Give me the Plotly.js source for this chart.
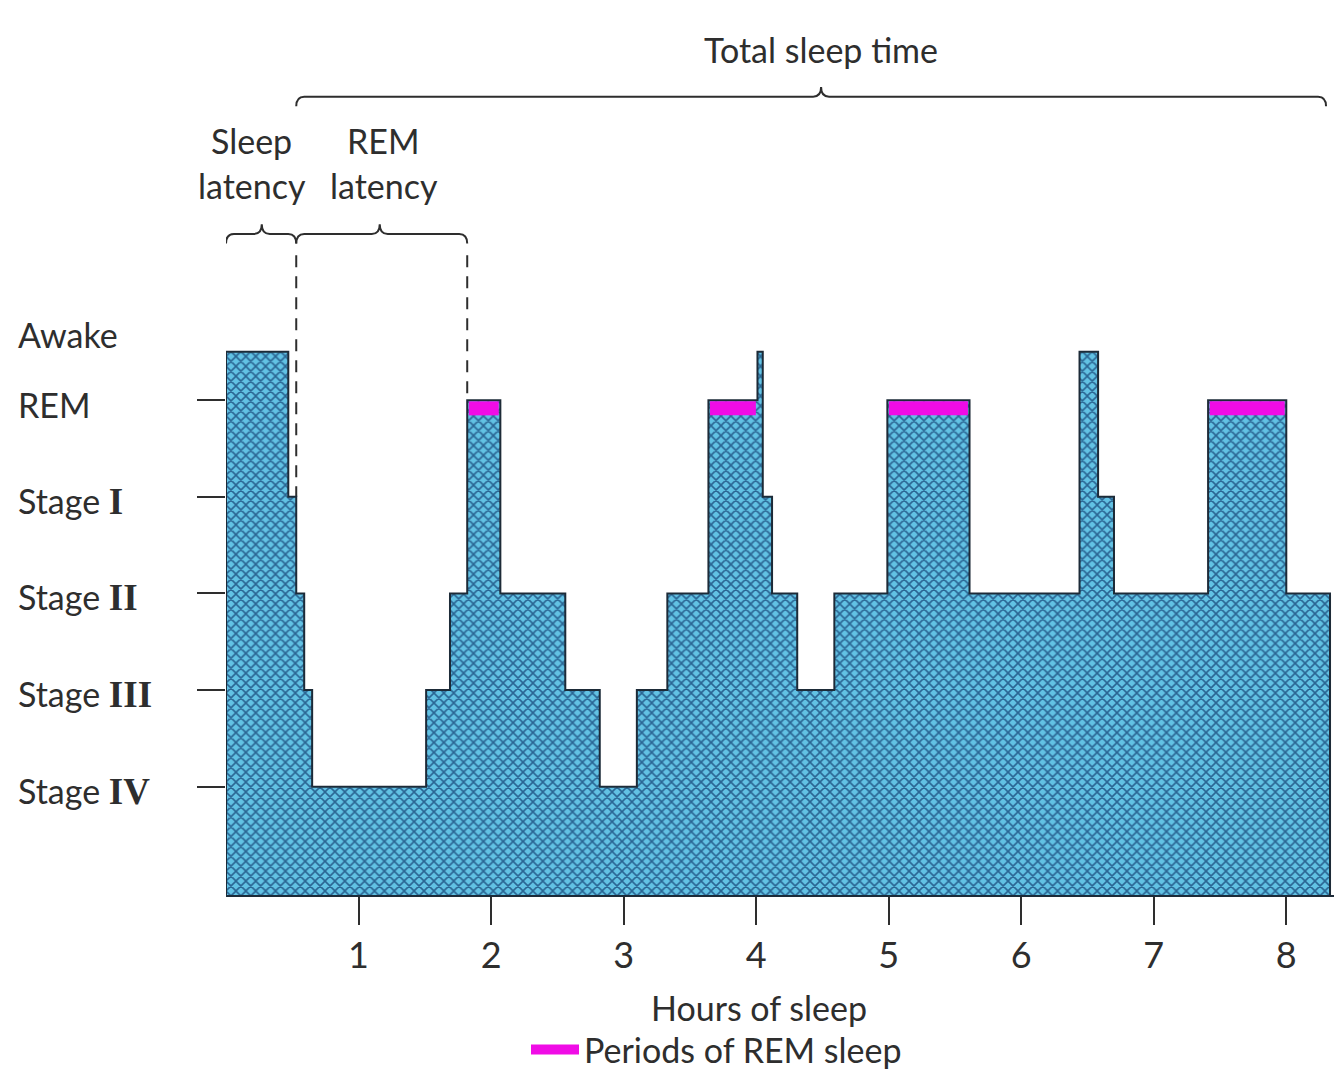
<!DOCTYPE html>
<html><head><meta charset="utf-8">
<script src="https://cdn.plot.ly/plotly-3.0.1.min.js"></script>
<style>html,body{margin:0;padding:0;background:#fff}</style>
</head><body><div id="chart" style="width:1334px;height:1071px"></div>
<script>
// ---- data ----
const stageNames  = ['Stage IV','Stage III','Stage II','Stage I','REM','Awake'];
const stageLevels = [1, 2, 3, 4, 5, 5.5];
const hypnoStart = [0, 0.47, 0.53, 0.59, 0.65, 1.51, 1.69, 1.82, 2.07, 2.56, 2.82, 3.10, 3.33, 3.64,
                    4.01, 4.05, 4.12, 4.31, 4.59, 4.99, 5.61, 6.44, 6.58, 6.70, 7.41, 8.00];
const hypnoStage = ['Awake','Stage I','Stage II','Stage III','Stage IV','Stage III','Stage II','REM',
                    'Stage II','Stage III','Stage IV','Stage III','Stage II','REM','Awake','Stage I',
                    'Stage II','Stage III','Stage II','REM','Stage II','Awake','Stage I','Stage II','REM','Stage II'];
const recordEnd = 8.33;
const hourTicks = [1, 2, 3, 4, 5, 6, 7, 8];
const braceLabels = [['Sleep', 'latency'], ['REM', 'latency'], ['Total sleep time']];
const braceStart  = [0, 0.53, 0.53];
const braceTip    = [0.27, 1.16, 4.49];
const braceEnd    = [0.53, 1.82, 8.30];

// ---- styling / layout constants ----
const FONT = 'Lato, "Open Sans", sans-serif';
const TXT = '#2e2e2e';
const OUTLINE = '#1d2b38';
const MAGENTA = '#f00ce6';
const LABEL_SIZE = 34;
const labelShiftPx = [-10, 4, 0];
const yRange = [-0.12, 9.14];
const xRange = [0, 8.36];
const base = yRange[0];
const lvl = s => stageLevels[stageNames.indexOf(s)];

// hypnogram outline (closed along the baseline)
const hx = [0].concat(hypnoStart, [recordEnd]);
const hy = [base].concat(hypnoStage.map(lvl), [base]);

// REM periods derived from the hypnogram
const remX = [], remY = [];
const bandOffset = 0.085;
hypnoStage.forEach((s, i) => {
  if (s === 'REM') {
    const e = i + 1 < hypnoStart.length ? hypnoStart[i + 1] : recordEnd;
    remX.push(hypnoStart[i] + 0.012, e - 0.012, null);
    remY.push(lvl('REM') - bandOffset, lvl('REM') - bandOffset, null);
  }
});

const traces = [
  {
    x: hx, y: hy, type: 'scatter', mode: 'lines',
    line: {shape: 'hv', color: OUTLINE, width: 2},
    fill: 'toself', fillcolor: '#4fa9cf',
    fillpattern: {shape: 'x', bgcolor: '#62c2e4', fgcolor: '#2a6593', size: 7, solidity: 0.4, fillmode: 'replace'},
    showlegend: false, hoverinfo: 'skip'
  },
  {
    x: remX, y: remY, type: 'scatter', mode: 'lines',
    line: {color: MAGENTA, width: 14},
    name: 'Periods of REM sleep', showlegend: true, hoverinfo: 'skip'
  }
];

// braces
function bracePath(a, m, b, h, d, t, w) {
  return `M ${a},${h - d} Q ${a},${h} ${a + w},${h} L ${m - w},${h} Q ${m},${h} ${m},${h + t} ` +
         `Q ${m},${h} ${m + w},${h} L ${b - w},${h} Q ${b},${h} ${b},${h - d}`;
}
const shapes = [];
const annotations = [];
const txtFont = {family: FONT, size: LABEL_SIZE, color: TXT};
braceLabels.forEach((lab, i) => {
  const upper = lab.length === 1;
  const h = upper ? 8.14 : 6.72;
  shapes.push({
    type: 'path', xref: 'x', yref: 'y',
    path: bracePath(braceStart[i], braceTip[i], braceEnd[i], h, 0.1, 0.1, 0.06),
    line: {color: TXT, width: 2}
  });
  const cx = braceTip[i];
  if (upper) {
    annotations.push({x: cx, y: 8.63, xref: 'x', yref: 'y', text: lab[0], showarrow: false,
      font: txtFont, xanchor: 'center', yanchor: 'middle', xshift: labelShiftPx[i]});
  } else {
    annotations.push({x: cx, y: 7.69, xref: 'x', yref: 'y', text: lab[0], showarrow: false,
      font: txtFont, xanchor: 'center', yanchor: 'middle', xshift: labelShiftPx[i]});
    annotations.push({x: cx, y: 7.22, xref: 'x', yref: 'y', text: lab[1], showarrow: false,
      font: txtFont, xanchor: 'center', yanchor: 'middle', xshift: labelShiftPx[i]});
  }
});

// dashed onset markers (sleep onset, REM onset)
[braceStart[1], braceEnd[1]].forEach(t => {
  let k = hypnoStart.findIndex(v => Math.abs(v - t) < 1e-6);
  const top = Math.max(lvl(hypnoStage[k]), lvl(hypnoStage[k - 1]));
  shapes.push({type: 'line', xref: 'x', yref: 'y', x0: t, x1: t, y0: 6.5, y1: top,
    line: {color: TXT, width: 2, dash: '12px,9px'}, layer: 'below'});
});

// stage labels (left aligned)
stageNames.forEach((s, i) => {
  const m = s.match(/^(Stage )([IV]+)$/);
  const text = m ? `${m[1]}<span style="font-family:'Liberation Serif';font-weight:bold;font-size:37px">${m[2]}</span>` : s;
  annotations.push({
    xref: 'paper', yref: 'y', x: -210 / 1108, y: stageLevels[i], text: text, showarrow: false,
    xanchor: 'left', yanchor: 'middle', yshift: s === 'Awake' ? 17 : -4,
    font: txtFont
  });
});

// x axis title
annotations.push({xref: 'x', yref: 'paper', x: 4.02, y: -0.126, text: 'Hours of sleep', showarrow: false,
  xanchor: 'center', yanchor: 'middle', font: txtFont});

const layout = {
  width: 1334, height: 1071,
  margin: {l: 226, r: 0, t: 0, b: 176, pad: 0, autoexpand: false},
  paper_bgcolor: '#ffffff', plot_bgcolor: 'rgba(0,0,0,0)',
  font: {family: FONT, color: TXT},
  xaxis: {
    range: xRange, showgrid: false, zeroline: false,
    tickvals: hourTicks, ticktext: hourTicks.map(String),
    ticks: 'outside', ticklen: 28, tickwidth: 2, tickcolor: TXT,
    tickfont: {family: FONT, size: 36, color: TXT}, ticklabelstandoff: 0,
    showline: true, linecolor: OUTLINE, linewidth: 2, automargin: false
  },
  yaxis: {
    range: yRange, showgrid: false, zeroline: false,
    tickvals: stageLevels.slice(0, 5), showticklabels: false,
    ticks: 'outside', ticklen: 28, tickwidth: 2, tickcolor: TXT, showline: false, automargin: false
  },
  showlegend: true,
  legend: {x: 300 / 1108, y: -0.173, xanchor: 'left', yanchor: 'middle', bgcolor: 'rgba(0,0,0,0)',
    font: txtFont, itemwidth: 48},
  shapes: shapes,
  annotations: annotations
};

Plotly.newPlot('chart', traces, layout, {displayModeBar: false, staticPlot: true});
</script>
</body></html>
